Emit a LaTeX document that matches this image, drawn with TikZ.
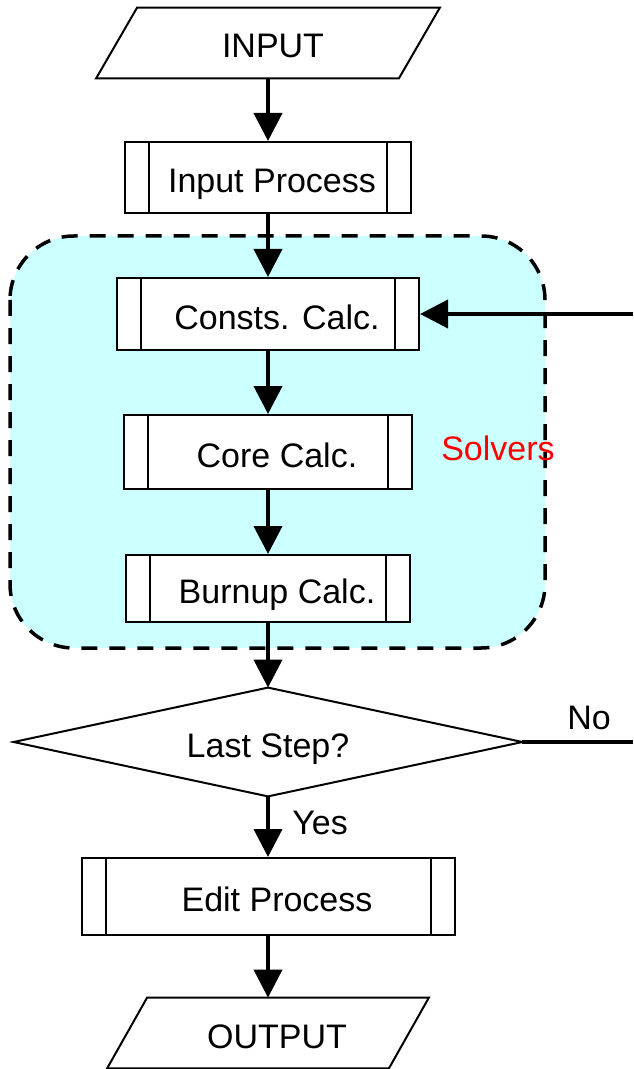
\documentclass[tikz,border=0pt]{standalone}
\usepackage{fontspec}
\setmainfont{Liberation Sans}
\usetikzlibrary{arrows.meta}
\definecolor{solverfill}{HTML}{CCFFFF}
\begin{document}
\begin{tikzpicture}[x=0.5pt,y=-0.5pt,
  txt/.style={font=\fontsize{17pt}{20pt}\selectfont, text height=12.2pt, text depth=0pt, inner sep=0pt},
  boxtxt/.style={txt, text height=15pt},
  outline/.style={line width=1pt},
  proc/.style={boxtxt, draw, fill=white, outline,
    execute at begin node={\hspace*{#1}},
    path picture={\draw[outline]
      ([xshift=12pt]path picture bounding box.north west) -- ([xshift=12pt]path picture bounding box.south west)
      ([xshift=-12pt]path picture bounding box.north east) -- ([xshift=-12pt]path picture bounding box.south east);}},
  proc/.default=9pt,
  io/.style={boxtxt, minimum height=35pt, execute at begin node={\hspace*{#1}}},
  io/.default=9pt,
  flow/.style={line width=2pt, -{Triangle[width=14pt,length=14pt]}},
  plain/.style={line width=2pt},
  group/.style={line width=1.75pt, dash pattern=on 8pt off 6pt, fill=solverfill, rounded corners=32pt}]

\useasboundingbox (0,0) rectangle (633,1069);

% solver group background
\draw[group] (10,236) rectangle (545,648);

% input / output parallelograms
\node[io=5pt, minimum width=171.5pt] (inp) at (268,43) {INPUT};
\draw[outline] ([xshift=20.5pt]inp.north west) -- (inp.north east)
  -- ([xshift=-20.5pt]inp.south east) -- (inp.south west) -- cycle;

\node[io, minimum width=160.5pt] (out) at (268,1033) {OUTPUT};
\draw[outline] ([xshift=20pt]out.north west) -- (out.north east)
  -- ([xshift=-20pt]out.south east) -- (out.south west) -- cycle;

% predefined process boxes
\node[proc=4pt, minimum width=143pt, minimum height=35.5pt] (ip) at (268,177.5) {Input Process};
\node[proc, minimum width=151pt, minimum height=36pt] (cc) at (268,314) {Consts. Calc.};
\node[proc, minimum width=144pt, minimum height=37pt] (core) at (268,452) {Core Calc.};
\node[proc, minimum width=142pt, minimum height=33.5pt] (bu) at (268,588.5) {Burnup Calc.};
\node[proc, minimum width=186.5pt, minimum height=38.5pt] (ed) at (268,896.5) {Edit Process};

% decision
\node[boxtxt, minimum width=254pt, minimum height=54pt] (dec) at (268,742) {Last Step?};
\draw[outline] (dec.north) -- (dec.east) -- (dec.south) -- (dec.west) -- cycle;

% labels
\node[txt, text=red] (solv) at (498,448) {Solvers};
\node[txt] (no) at (589,717) {No};
\node[txt] (yes) at (320,822) {Yes};

% free ends of the loop-back line
\coordinate (noend) at (633,742);
\coordinate (fb) at (633,314);

% connectors
\draw[flow] (inp.south) -- (ip.north);
\draw[flow] (ip.south) -- (cc.north);
\draw[flow] (cc.south) -- (core.north);
\draw[flow] (core.south) -- (bu.north);
\draw[flow] (bu.south) -- (dec.north);
\draw[flow] (dec.south) -- (ed.north);
\draw[flow] (ed.south) -- (out.north);
\draw[plain] (dec.east) -- (noend);
\draw[flow] (fb) -- (cc.east);
\end{tikzpicture}
\end{document}
